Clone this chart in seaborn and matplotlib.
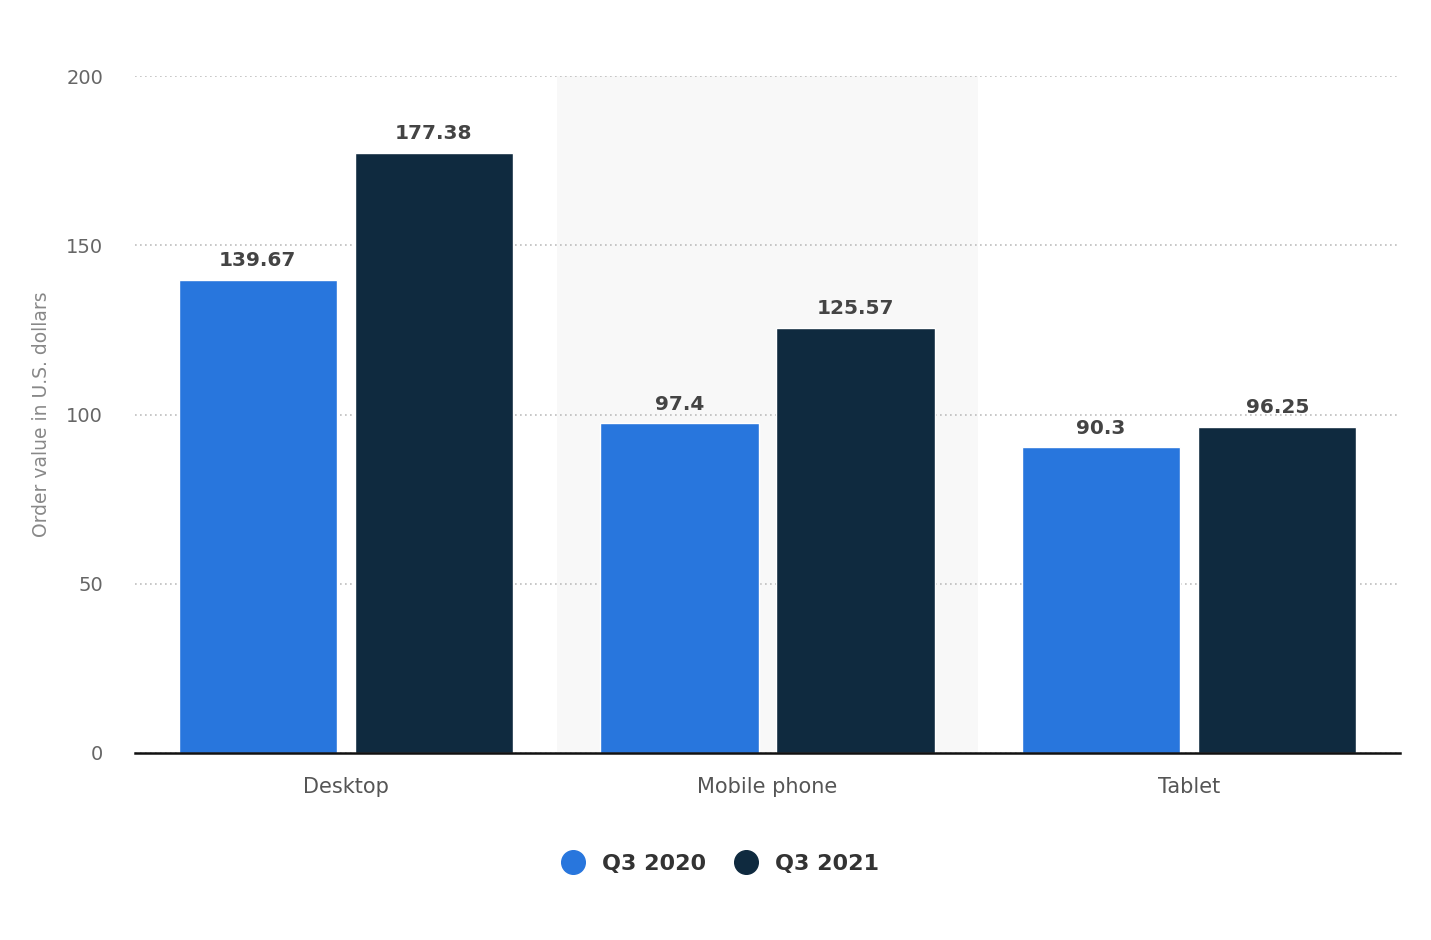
import seaborn as sns
import matplotlib.pyplot as plt
import pandas as pd

devices = ["Desktop", "Mobile phone", "Tablet"]
q3_2020 = [139.67, 97.4, 90.3]
q3_2021 = [177.38, 125.57, 96.25]
periods = ["Q3 2020", "Q3 2021"]
colors = {"Q3 2020": "#2876dd", "Q3 2021": "#0f2a3f"}

df = pd.DataFrame({
    "device": devices * 2,
    "value": q3_2020 + q3_2021,
    "period": [periods[0]] * 3 + [periods[1]] * 3,
})

sns.set_style("white")
plt.rcParams["font.family"] = ["DejaVu Sans"]

fig = plt.figure(figsize=(14.31, 9.40), dpi=100)
ax = fig.add_axes([135 / 1431, 187 / 940, 1265 / 1431, 677 / 940])

# shaded band behind the middle category
ax.axvspan(0.5, 1.5, color="#f8f8f8", zorder=0, lw=0)

sns.barplot(data=df, x="device", y="value", hue="period", hue_order=periods,
            palette=colors, width=0.835, gap=0.1, saturation=1, ax=ax,
            legend=False, zorder=3)

for cont in ax.containers:
    ax.bar_label(cont, labels=[f"{v:g}" for v in cont.datavalues], padding=7,
                 fontsize=14.5, fontweight="bold", color="#444444")

ax.set_ylim(0, 200)
ax.set_xlim(-0.5, 2.5)
ax.set_yticks([0, 50, 100, 150, 200])
ax.yaxis.grid(True, linestyle=(0, (1, 2)), color="#bdbdbd", linewidth=1.2, zorder=1)
ax.set_axisbelow(True)
for s in ["top", "right", "left"]:
    ax.spines[s].set_visible(False)
ax.spines["bottom"].set_color("#111111")
ax.spines["bottom"].set_linewidth(1.8)
ax.spines["bottom"].set_zorder(5)
ax.tick_params(axis="y", length=0, pad=23, labelsize=14, labelcolor="#666666")
ax.tick_params(axis="x", length=0, pad=17, labelsize=15, labelcolor="#555555")
ax.set_xlabel("")
ax.set_ylabel("Order value in U.S. dollars", fontsize=13.5, color="#888888", labelpad=11)

handles = [plt.Line2D([], [], marker="o", linestyle="", markersize=17,
                      markerfacecolor=colors[p], markeredgecolor=colors[p]) for p in periods]
fig.legend(handles, periods, loc="center", bbox_to_anchor=(715 / 1431, 1 - 864 / 940),
           ncol=2, frameon=False, handletextpad=0.3, columnspacing=0.8,
           prop={"size": 16, "weight": "bold"}, labelcolor="#333333")

fig.savefig("out.png", dpi=100, facecolor="white")
